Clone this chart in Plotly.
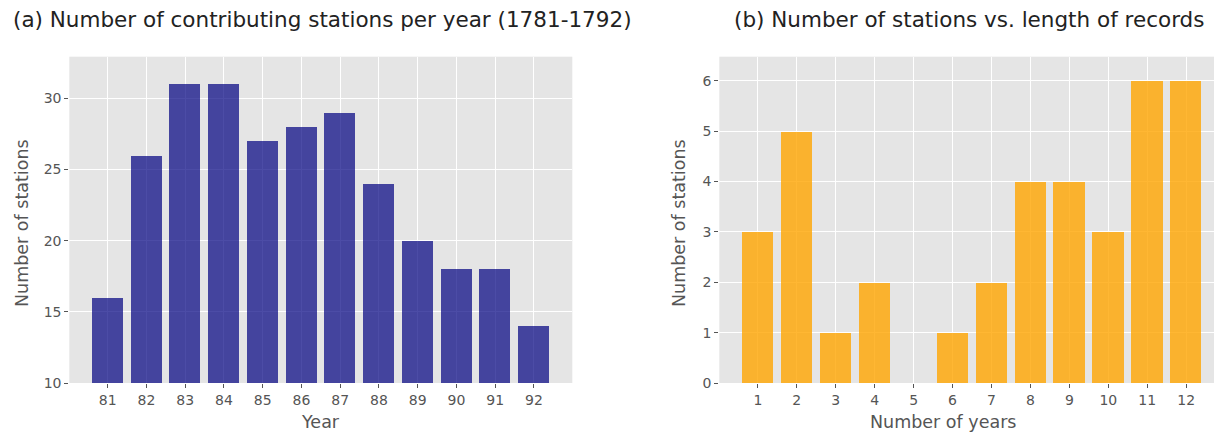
import plotly.graph_objects as go

# (a) contributing stations per year
years = [1781, 1782, 1783, 1784, 1785, 1786, 1787, 1788, 1789, 1790, 1791, 1792]
year_labels = ["81", "82", "83", "84", "85", "86", "87", "88", "89", "90", "91", "92"]
stations_per_year = [16, 26, 31, 31, 27, 28, 29, 24, 20, 18, 18, 14]

# (b) stations vs. length of record
record_years = [1, 2, 3, 4, 5, 6, 7, 8, 9, 10, 11, 12]
stations_per_length = [3, 5, 1, 2, 0, 1, 2, 4, 4, 3, 6, 6]

# the page body has an 8px margin, so the figure is drawn 8px in from the window corner
OFF = 8
W, H = 1222 - OFF, 434 - OFF
FONT = "DejaVu Sans"
TICK = "#555555"


def fx(px):
    return (px - OFF) / W


def fy(py):
    return 1 - (py - OFF) / H


fig = go.Figure()

fig.add_trace(go.Bar(
    x=years, y=stations_per_year, width=0.8,
    marker=dict(color="rgba(0,0,128,0.7)", line=dict(width=0)),
    xaxis="x", yaxis="y", showlegend=False,
))
fig.add_trace(go.Bar(
    x=record_years, y=stations_per_length, width=0.8,
    marker=dict(color="rgba(255,165,0,0.8)", line=dict(width=0)),
    xaxis="x2", yaxis="y2", showlegend=False,
))

# pixel positions (in the window) of the two axes boxes
ax_a = (69.3, 572.3)
ax_b = (719.3, 1222.0)
top, bottom = 56.7, 383.0
ydom = [fy(bottom), fy(top)]

common = dict(
    showgrid=True, gridcolor="white", gridwidth=1.3,
    zeroline=False, showline=False,
    ticks="outside", ticklen=4, tickwidth=1, tickcolor=TICK,
    tickfont=dict(family=FONT, size=14, color=TICK),
    automargin=False,
)

fig.update_layout(
    width=W, height=H,
    margin=dict(l=0, r=0, t=0, b=0),
    paper_bgcolor="white",
    plot_bgcolor="#E5E5E5",
    bargap=0,
    font=dict(family=FONT),
    xaxis=dict(domain=[fx(ax_a[0]), fx(ax_a[1])], range=[1780.01, 1792.99],
               tickvals=years, ticktext=year_labels, anchor="y", **common),
    yaxis=dict(domain=ydom, range=[10, 32.93], tickvals=[10, 15, 20, 25, 30],
               anchor="x", **common),
    xaxis2=dict(domain=[fx(ax_b[0]), 1.0], range=[0.01, 12.92],
                tickvals=record_years, anchor="y2", **common),
    yaxis2=dict(domain=ydom, range=[0, 6.48], tickvals=[0, 1, 2, 3, 4, 5, 6],
                anchor="x2", **common),
)

titles = [
    ("(a) Number of contributing stations per year (1781-1792)", 322),
    ("(b) Number of stations vs. length of records", 969),
]
for text, cx in titles:
    fig.add_annotation(text=text, x=fx(cx), y=fy(19), xref="paper", yref="paper",
                       showarrow=False, xanchor="center", yanchor="middle",
                       font=dict(family=FONT, size=21.5, color="#222222"))

labels = [
    ("Year", 320, 422, 0),
    ("Number of years", 943, 422, 0),
    ("Number of stations", 22, 223, -90),
    ("Number of stations", 679, 223, -90),
]
for text, px, py, ang in labels:
    fig.add_annotation(text=text, x=fx(px), y=fy(py), xref="paper", yref="paper",
                       showarrow=False, xanchor="center", yanchor="middle", textangle=ang,
                       font=dict(family=FONT, size=17.5, color=TICK))

fig.write_html("out.html")
